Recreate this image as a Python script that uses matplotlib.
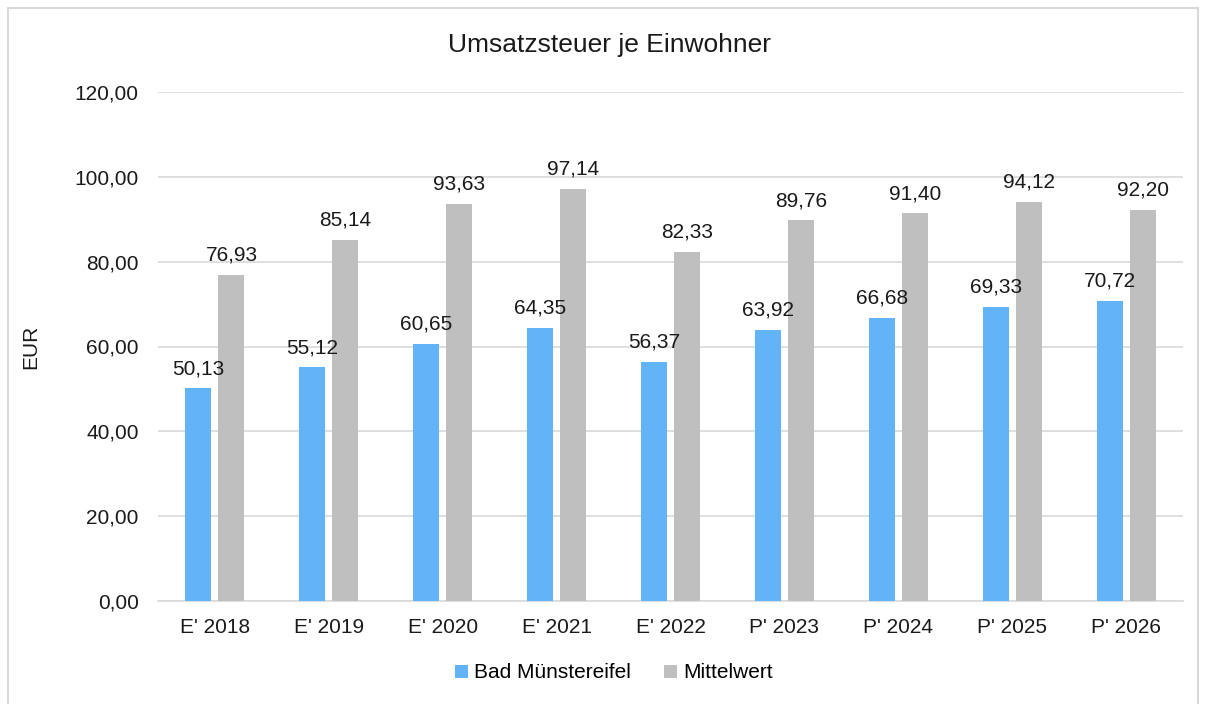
import matplotlib.pyplot as plt
import numpy as np
from matplotlib.patches import Rectangle

plt.rcParams['font.family'] = ['Liberation Sans', 'DejaVu Sans']

categories = ["E' 2018", "E' 2019", "E' 2020", "E' 2021", "E' 2022",
              "P' 2023", "P' 2024", "P' 2025", "P' 2026"]
bad_muenstereifel = [50.13, 55.12, 60.65, 64.35, 56.37, 63.92, 66.68, 69.33, 70.72]
mittelwert = [76.93, 85.14, 93.63, 97.14, 82.33, 89.76, 91.40, 94.12, 92.20]
yticks = [0, 20, 40, 60, 80, 100, 120]


def de_fmt(v):
    return f"{v:.2f}".replace(".", ",")


fig = plt.figure(figsize=(12.10, 7.04), dpi=100)
fig.patches.append(Rectangle((8 / 1210, -0.01), 1190 / 1210, 1 - 8 / 704 + 0.01,
                             transform=fig.transFigure, fill=False,
                             edgecolor='#d9d9d9', linewidth=1.5))

ax = fig.add_axes([158 / 1210, 103 / 704, 1025 / 1210, 509 / 704])

x = np.arange(len(categories))
w = 0.228
off = 0.145
b1 = ax.bar(x - off, bad_muenstereifel, w, color='#63b4f6', label='Bad Münstereifel', zorder=3)
b2 = ax.bar(x + off, mittelwert, w, color='#bfbfbf', label='Mittelwert', zorder=3)

for bars, vals in ((b1, bad_muenstereifel), (b2, mittelwert)):
    for r, v in zip(bars, vals):
        ax.text(r.get_x() + r.get_width() / 2, v + 2.4, de_fmt(v),
                ha='center', va='bottom', fontsize=15, color='#1a1a1a')

ax.set_xlim(-0.5, len(categories) - 0.5)
ax.set_ylim(0, 120)
ax.set_yticks(yticks)
ax.set_yticklabels([de_fmt(v) for v in yticks])
ax.set_xticks(x)
ax.set_xticklabels(categories)
ax.tick_params(axis='both', length=0, labelsize=15, colors='#1a1a1a')
ax.tick_params(axis='y', pad=14)
ax.tick_params(axis='x', pad=12)
ax.grid(axis='y', color='#d9d9d9', linewidth=1.2, zorder=0)
for s in ('top', 'right', 'left'):
    ax.spines[s].set_visible(False)
ax.spines['bottom'].set_color('#d9d9d9')
ax.spines['bottom'].set_linewidth(1.2)

ax.set_ylabel('EUR', fontsize=15, color='#1a1a1a')
ax.yaxis.set_label_coords(-0.115, 0.5)
fig.text(610 / 1210, 1 - 45 / 704, 'Umsatzsteuer je Einwohner', ha='center', va='center',
         fontsize=19, color='#1a1a1a')

fig.legend(handles=[b1, b2], loc='center', bbox_to_anchor=(614 / 1210, 1 - 673 / 704),
           ncol=2, frameon=False, fontsize=15, handlelength=0.6, handleheight=0.6,
           handletextpad=0.3, columnspacing=1.6)

fig.savefig('out.png', dpi=100)
